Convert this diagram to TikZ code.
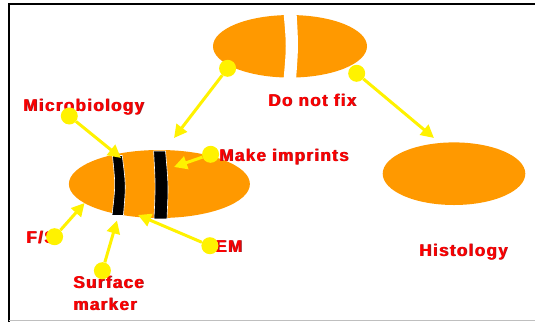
\documentclass[tikz,border=0pt]{standalone}
\usepackage{fontspec}
\setmainfont{Liberation Sans}[LetterSpace=8]
\usetikzlibrary{shapes.geometric,arrows.meta}
\definecolor{cellorange}{RGB}{255,153,0}
\definecolor{labelred}{RGB}{255,0,0}
\definecolor{labelshade}{RGB}{150,30,40}
\newcommand{\shadetext}[1]{\rlap{\color{labelshade}\raisebox{-0.9pt}{\kern0.9pt #1}}#1}
\begin{document}
\begin{tikzpicture}[x=1pt,y=-1pt,
  cell/.style={ellipse, fill=cellorange, inner sep=0pt},
  band/.style={fill=black, draw=white, line width=0.6pt},
  lbl/.style={anchor=base west, inner sep=0pt, text=labelred, font=\fontsize{17}{20}\selectfont\bfseries, align=left},
  dot/.style={circle, fill=yellow, inner sep=0pt, minimum size=17pt},
  arr/.style={draw=yellow, line width=3pt, -{Triangle[length=13pt,width=13pt]}, fill=yellow}]
\useasboundingbox (0,0) rectangle (535,322);
% frame
\draw[line width=1.2pt] (9,322) -- (9,4) -- (535,4);
\draw[gray!50, line width=1.2pt] (9,320.5) -- (535,320.5);
% cells
\node[cell, minimum width=154pt, minimum height=62.5pt] (top) at (290,46.3) {};
\fill[white] (283.5,12) .. controls (286.5,46) .. (283.5,80) -- (296,80) .. controls (298.5,46) .. (296.5,12) -- cycle;
\node[cell, minimum width=181pt, minimum height=68pt] (fixed) at (159.4,184) {};
\node[cell, minimum width=142.6pt, minimum height=62.6pt] (histo) at (454,173.7) {};
% bands
\path[band] (112.4,155.5) .. controls (115.5,185) .. (112,215.5) -- (123.4,215.5) .. controls (126,185) .. (122.2,155.5) -- cycle;
\path[band] (153.6,151) .. controls (155.5,185) .. (154,218.8) -- (167,218.8) .. controls (168.5,185) .. (165.5,151) -- cycle;
% labels
\node[lbl] (micro) at (23,111) {\shadetext{Microbiology}};
\node[lbl] (nofix) at (268,106) {\shadetext{Do not fix}};
\node[lbl] (imprint) at (219,161) {\shadetext{Make imprints}};
\node[lbl] (fs) at (26,243) {\shadetext{F/S}};
\node[lbl] (em) at (215,252) {\shadetext{EM}};
\node[lbl] (surf) at (73,288) {\shadetext{Surface}};
\node[lbl] (mark) at (73,310) {\shadetext{marker}};
\node[lbl] (histlbl) at (419,256) {\shadetext{Histology}};
% dots
\node[dot] (d1) at (227.6,68.3) {};
\node[dot] (d2) at (356.7,73.3) {};
\node[dot] (d3) at (69.3,116) {};
\node[dot] (d4) at (210.6,154.3) {};
\node[dot] (d5) at (54.6,236.7) {};
\node[dot] (d6) at (209.9,245.7) {};
\node[dot] (d7) at (102.4,270.7) {};
% arrow ends
\coordinate (t1) at (174,138);
\coordinate (t2) at (434,138);
\coordinate (t3) at (121,158);
\coordinate (t4) at (174,167);
\coordinate (t5) at (84.6,203);
\coordinate (t6) at (138,215);
\coordinate (t7) at (117,220.5);
\draw[arr] (d1) -- (t1);
\draw[arr] (d2) -- (t2);
\draw[arr] (d3) -- (t3);
\draw[arr] (d4) -- (t4);
\draw[arr] (d5) -- (t5);
\draw[arr] (d6) -- (t6);
\draw[arr] (d7) -- (t7);
\end{tikzpicture}
\end{document}
